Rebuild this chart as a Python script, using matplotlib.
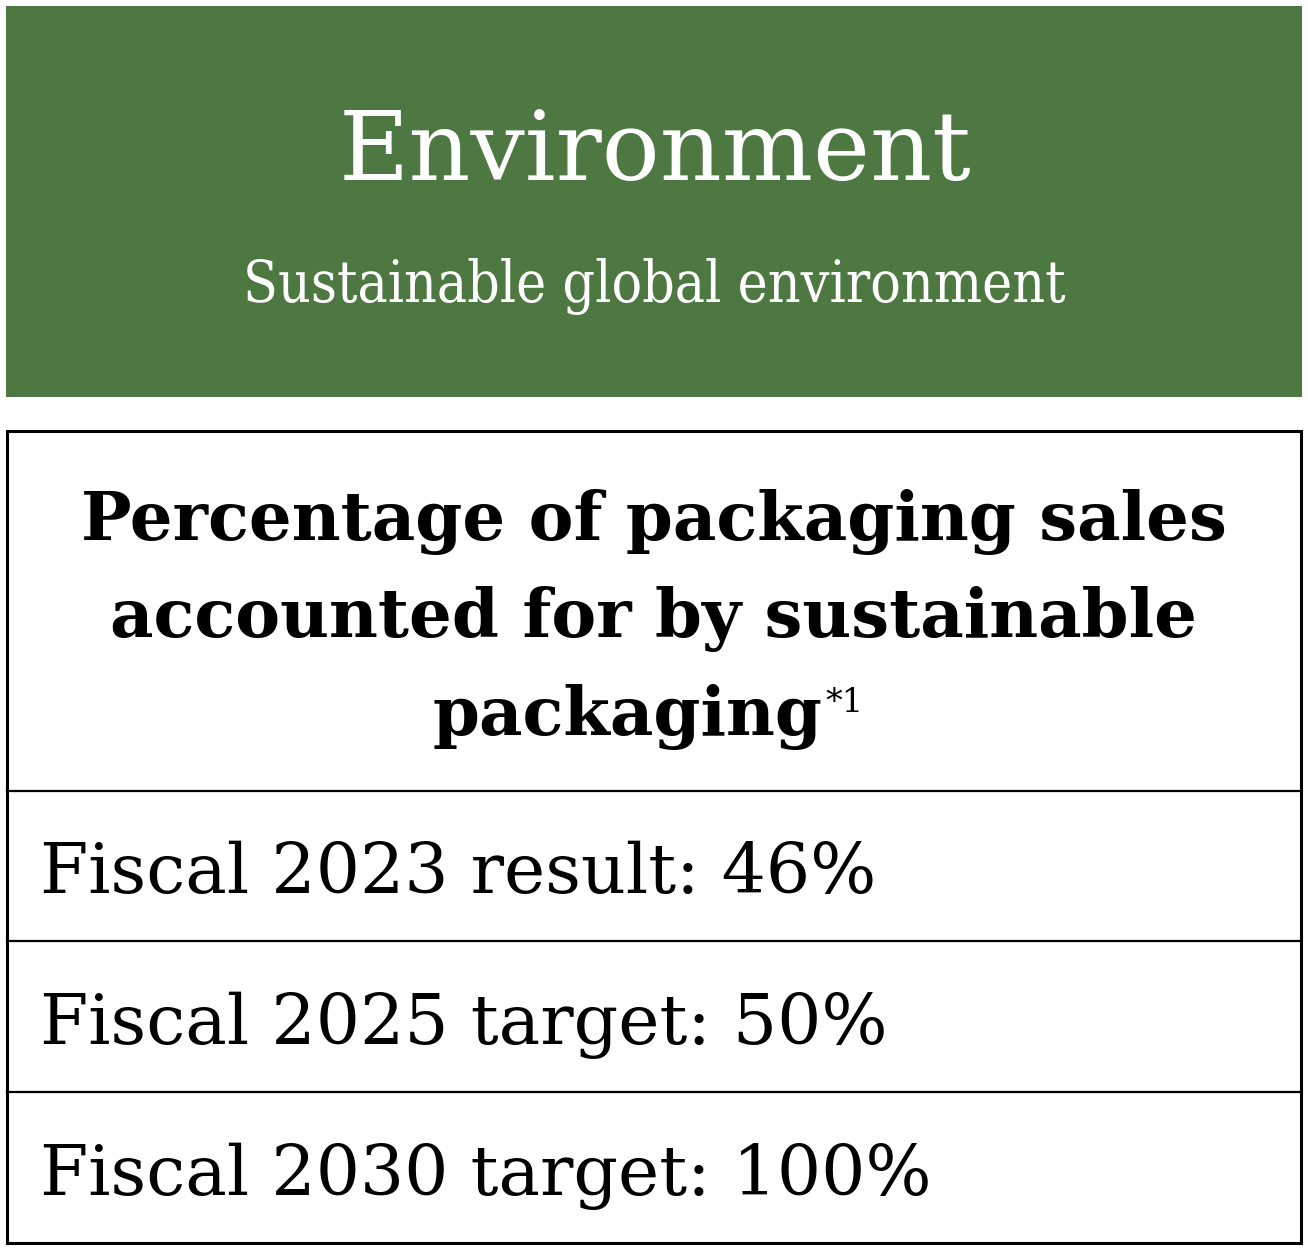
import matplotlib.pyplot as plt
from matplotlib.patches import Rectangle

# content
title = 'Environment'
subtitle = 'Sustainable global environment'
heading_lines = ['Percentage of packaging sales', 'accounted for by sustainable', 'packaging']
footnote_mark = '*1'
row_labels = ['Fiscal 2023 result: 46%', 'Fiscal 2025 target: 50%', 'Fiscal 2030 target: 100%']

green = '#4d7842'
W, H = 1308, 1250
serif = 'DejaVu Serif'

fig = plt.figure(figsize=(W / 100, H / 100), dpi=100)
ax = fig.add_axes([0, 0, 1, 1])
ax.set_xlim(0, W)
ax.set_ylim(H, 0)
ax.axis('off')
renderer = fig.canvas.get_renderer()


def fit(t, width_px):
    # scale the font so the text spans width_px pixels
    w = t.get_window_extent(renderer).width
    t.set_fontsize(t.get_fontsize() * width_px / w)
    return t


# green banner
ax.add_patch(Rectangle((6, 6), 1296, 391, facecolor=green, edgecolor='none'))
fit(ax.text(655, 180, title, ha='center', va='baseline', color='white',
            fontsize=60, family=serif), 634)
fit(ax.text(654, 302, subtitle, ha='center', va='baseline', color='white',
            fontsize=40, family=serif, fontstretch='condensed'), 823)

# table box
ax.add_patch(Rectangle((7, 431), 1294, 812, facecolor='none', edgecolor='black', lw=2.2))
for y in [791, 941, 1092]:
    ax.plot([7, 1301], [y, y], color='black', lw=1.6)

heading_fs = None
t1 = fit(ax.text(654, 540, heading_lines[0], ha='center', va='baseline',
                 fontsize=50, fontweight='bold', family=serif), 1148)
heading_fs = t1.get_fontsize()
ax.text(653, 637, heading_lines[1], ha='center', va='baseline',
        fontsize=heading_fs, fontweight='bold', family=serif)
t3 = ax.text(432, 735, heading_lines[2], ha='left', va='baseline',
             fontsize=heading_fs, fontweight='bold', family=serif)
x_end = ax.transData.inverted().transform(
    (t3.get_window_extent(renderer).x1, 0))[0]
ax.text(x_end + 3, 712, footnote_mark, ha='left', va='baseline',
        fontsize=heading_fs * 0.5, family=serif)

row_fs = None
for lab, yb in zip(row_labels, [893, 1044, 1195]):
    t = ax.text(40, yb, lab, ha='left', va='baseline', fontsize=50, family=serif)
    if row_fs is None:
        fit(t, 837)
        row_fs = t.get_fontsize()
    t.set_fontsize(row_fs)

fig.savefig('out.png', dpi=100)
